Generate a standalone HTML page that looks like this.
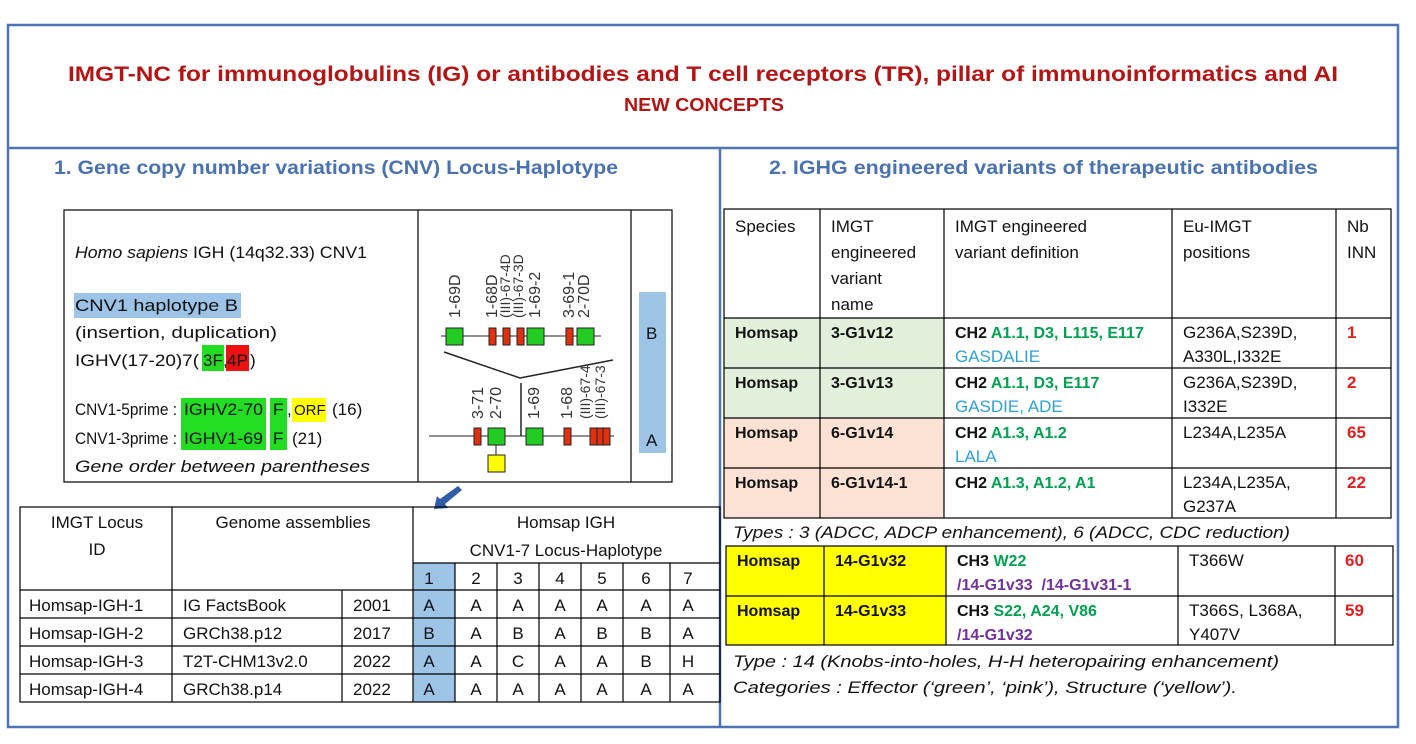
<!DOCTYPE html>
<html><head><meta charset="utf-8">
<style>
html,body{margin:0;padding:0;background:#fff;}
svg{display:block;font-family:"Liberation Sans",Arial,sans-serif;}
.b{font-weight:bold;}
.i{font-style:italic;}
</style></head>
<body>
<svg width="1416" height="744" viewBox="0 0 1416 744" xmlns="http://www.w3.org/2000/svg" fill="#111">
<rect x="8" y="25" width="1390" height="702" fill="none" stroke="#4f74b5" stroke-width="2.5"/>
<line x1="8" y1="148" x2="1398" y2="148" stroke="#4f74b5" stroke-width="2.5"/>
<line x1="720" y1="148" x2="720" y2="727" stroke="#4f74b5" stroke-width="2.5"/>

<text x="703" y="81" text-anchor="middle" font-size="21" font-weight="bold" fill="#b41414" textLength="1270" lengthAdjust="spacingAndGlyphs">IMGT-NC for immunoglobulins (IG) or antibodies and T cell receptors (TR), pillar of immunoinformatics and AI</text>
<text x="704" y="111" text-anchor="middle" font-size="18" font-weight="bold" fill="#b41414" textLength="160" lengthAdjust="spacingAndGlyphs">NEW CONCEPTS</text>

<text x="54" y="174" font-size="19" font-weight="bold" fill="#4a72b0" textLength="564" lengthAdjust="spacingAndGlyphs">1.   Gene copy number variations (CNV) Locus-Haplotype</text>
<text x="769" y="174" font-size="19" font-weight="bold" fill="#4a72b0" textLength="549" lengthAdjust="spacingAndGlyphs">2.   IGHG engineered variants of therapeutic antibodies</text>

<g>
<rect x="64" y="210" width="608" height="272" fill="none" stroke="#000" stroke-width="1.2"/>
<line x1="418" y1="210" x2="418" y2="482" stroke="#000" stroke-width="1.2"/>
<line x1="631" y1="210" x2="631" y2="482" stroke="#000" stroke-width="1.2"/>
<text font-size="17" x="75" y="258" textLength="292" lengthAdjust="spacingAndGlyphs"><tspan class="i">Homo sapiens</tspan> IGH (14q32.33) CNV1</text>
<rect x="74" y="293" width="167" height="25" fill="#9dc3e6"/>
<text font-size="17" x="75" y="311" textLength="163" lengthAdjust="spacingAndGlyphs">CNV1 haplotype B</text>
<text font-size="17" x="75" y="338" textLength="202" lengthAdjust="spacingAndGlyphs">(insertion, duplication)</text>
<rect x="202" y="345" width="22" height="26" fill="#22dd22"/>
<rect x="226" y="345" width="23" height="26" fill="#ee1111"/>
<g font-size="17">
<text x="75" y="366" textLength="124" lengthAdjust="spacingAndGlyphs">IGHV(17-20)7(</text>
<text x="203" y="366">3F</text>
<text x="223" y="366">,</text>
<text x="227" y="366">4P</text>
<text x="250" y="366">)</text>
</g>
<rect x="181" y="398" width="85" height="52" fill="#22dd22"/>
<rect x="270" y="398" width="17" height="52" fill="#22dd22"/>
<rect x="292" y="398" width="34" height="24" fill="#ffff00"/>
<g font-size="17">
<text x="75" y="415" textLength="102" lengthAdjust="spacingAndGlyphs">CNV1-5prime :</text>
<text x="184" y="415" textLength="79" lengthAdjust="spacingAndGlyphs">IGHV2-70</text>
<text x="273" y="415">F</text>
<text x="287" y="415">,</text>
<text x="294" y="415" font-size="15">ORF</text>
<text x="332" y="415">(16)</text>
<text x="75" y="444" textLength="102" lengthAdjust="spacingAndGlyphs">CNV1-3prime :</text>
<text x="184" y="444" textLength="79" lengthAdjust="spacingAndGlyphs">IGHV1-69</text>
<text x="273" y="444">F</text>
<text x="292" y="444">(21)</text>
</g>
<text class="i" font-size="17" x="75" y="472" textLength="295" lengthAdjust="spacingAndGlyphs">Gene order between parentheses</text>
</g>

<g stroke="#222" stroke-width="1">
<line x1="441" y1="336" x2="601" y2="336"/>
<rect x="446" y="328" width="17" height="17" fill="#22cc22"/>
<rect x="489" y="328" width="7" height="17" fill="#e03010"/>
<rect x="503" y="328" width="7" height="17" fill="#e03010"/>
<rect x="517" y="328" width="7" height="17" fill="#e03010"/>
<rect x="527" y="328" width="17" height="17" fill="#22cc22"/>
<rect x="566" y="328" width="7" height="17" fill="#e03010"/>
<rect x="577" y="328" width="17" height="17" fill="#22cc22"/>
<polyline points="444,352 520,378 613,360" fill="none" stroke-width="1.5"/>
<line x1="521" y1="383" x2="521" y2="436" stroke-width="1.5"/>
<line x1="429" y1="436" x2="614" y2="436"/>
<rect x="474" y="428" width="7" height="17" fill="#e03010"/>
<rect x="488" y="428" width="17" height="17" fill="#22cc22"/>
<line x1="496" y1="445" x2="496" y2="455"/>
<rect x="488" y="455" width="17" height="17" fill="#ffff00"/>
<rect x="526" y="428" width="17" height="17" fill="#22cc22"/>
<rect x="564" y="428" width="7" height="17" fill="#e03010"/>
<rect x="590" y="428" width="20" height="17" fill="#e03010"/>
<line x1="597" y1="428" x2="597" y2="445"/><line x1="603" y1="428" x2="603" y2="445"/>
</g>
<g font-size="16" fill="#333">
<text transform="translate(460,318) rotate(-90)">1-69D</text>
<text transform="translate(497,318) rotate(-90)">1-68D</text>
<text transform="translate(510,318) rotate(-90)" font-size="14">(III)-67-4D</text>
<text transform="translate(523,318) rotate(-90)" font-size="14">(III)-67-3D</text>
<text transform="translate(540,318) rotate(-90)">1-69-2</text>
<text transform="translate(574,318) rotate(-90)">3-69-1</text>
<text transform="translate(589,318) rotate(-90)">2-70D</text>
<text transform="translate(483,419) rotate(-90)">3-71</text>
<text transform="translate(501,419) rotate(-90)">2-70</text>
<text transform="translate(539,419) rotate(-90)">1-69</text>
<text transform="translate(572,419) rotate(-90)">1-68</text>
<text transform="translate(590,419) rotate(-90)" font-size="14">(III)-67-4</text>
<text transform="translate(605,419) rotate(-90)" font-size="14">(III)-67-3</text>
</g>
<rect x="639" y="292" width="27" height="161" fill="#9dc3e6"/>
<text x="646" y="339" font-size="17">B</text>
<text x="646" y="446" font-size="17">A</text>
<polygon points="458,486 462,490 445,504 448,508 434,509 437,496 440,499" fill="#2f5da8"/>

<g>
<rect x="413" y="563" width="42" height="139" fill="#9dc3e6"/>
<g stroke="#000" stroke-width="1.2" fill="none">
<rect x="20" y="507" width="700" height="195"/>
<line x1="20" y1="590" x2="720" y2="590"/>
<line x1="413" y1="563" x2="720" y2="563"/>
<line x1="20" y1="618" x2="720" y2="618"/>
<line x1="20" y1="646" x2="720" y2="646"/>
<line x1="20" y1="674" x2="720" y2="674"/>
<line x1="172" y1="507" x2="172" y2="702"/>
<line x1="342" y1="590" x2="342" y2="702"/>
<line x1="413" y1="507" x2="413" y2="702"/>
<line x1="455" y1="563" x2="455" y2="702"/>
<line x1="497" y1="563" x2="497" y2="702"/>
<line x1="539" y1="563" x2="539" y2="702"/>
<line x1="581" y1="563" x2="581" y2="702"/>
<line x1="623" y1="563" x2="623" y2="702"/>
<line x1="670" y1="563" x2="670" y2="702"/>
</g>
<g font-size="17" text-anchor="middle">
<text x="97" y="528">IMGT Locus</text><text x="97" y="555">ID</text>
<text x="293" y="528">Genome assemblies</text>
<text x="566" y="528">Homsap IGH</text><text x="566" y="556">CNV1-7 Locus-Haplotype</text>
<text x="429" y="584">1</text><text x="476" y="584">2</text><text x="518" y="584">3</text><text x="560" y="584">4</text><text x="602" y="584">5</text><text x="646" y="584">6</text><text x="688" y="584">7</text>
</g>
<g font-size="17">
<text x="29" y="611">Homsap-IGH-1</text><text x="183" y="611">IG FactsBook</text><text x="353" y="611">2001</text>
<text x="29" y="639">Homsap-IGH-2</text><text x="183" y="639">GRCh38.p12</text><text x="353" y="639">2017</text>
<text x="29" y="667">Homsap-IGH-3</text><text x="183" y="667">T2T-CHM13v2.0</text><text x="353" y="667">2022</text>
<text x="29" y="695">Homsap-IGH-4</text><text x="183" y="695">GRCh38.p14</text><text x="353" y="695">2022</text>
</g>
<g font-size="17" text-anchor="middle">
<text x="429" y="611">A</text><text x="476" y="611">A</text><text x="518" y="611">A</text><text x="560" y="611">A</text><text x="602" y="611">A</text><text x="646" y="611">A</text><text x="688" y="611">A</text>
<text x="429" y="639">B</text><text x="476" y="639">A</text><text x="518" y="639">B</text><text x="560" y="639">A</text><text x="602" y="639">B</text><text x="646" y="639">B</text><text x="688" y="639">A</text>
<text x="429" y="667">A</text><text x="476" y="667">A</text><text x="518" y="667">C</text><text x="560" y="667">A</text><text x="602" y="667">A</text><text x="646" y="667">B</text><text x="688" y="667">H</text>
<text x="429" y="695">A</text><text x="476" y="695">A</text><text x="518" y="695">A</text><text x="560" y="695">A</text><text x="602" y="695">A</text><text x="646" y="695">A</text><text x="688" y="695">A</text>
</g>
</g>

<g>
<rect x="724" y="318" width="220" height="100" fill="#e2efda"/>
<rect x="724" y="418" width="220" height="100" fill="#fbe2d5"/>
<g stroke="#000" stroke-width="1.2" fill="none">
<rect x="724" y="209" width="667" height="309"/>
<line x1="724" y1="318" x2="1391" y2="318"/>
<line x1="724" y1="368" x2="1391" y2="368"/>
<line x1="724" y1="418" x2="1391" y2="418"/>
<line x1="724" y1="468" x2="1391" y2="468"/>
<line x1="820" y1="209" x2="820" y2="518"/>
<line x1="944" y1="209" x2="944" y2="518"/>
<line x1="1172" y1="209" x2="1172" y2="518"/>
<line x1="1336" y1="209" x2="1336" y2="518"/>
</g>
<g font-size="17">
<text x="735" y="232">Species</text>
<text x="831" y="232">IMGT</text><text x="831" y="258">engineered</text><text x="831" y="284">variant</text><text x="831" y="310">name</text>
<text x="955" y="232">IMGT engineered</text><text x="955" y="258">variant definition</text>
<text x="1183" y="232">Eu-IMGT</text><text x="1183" y="258">positions</text>
<text x="1347" y="232">Nb</text><text x="1347" y="258">INN</text>
</g>
<g font-weight="bold" font-size="16">
<text x="735" y="338">Homsap</text><text x="831" y="338">3-G1v12</text>
<text x="735" y="388">Homsap</text><text x="831" y="388">3-G1v13</text>
<text x="735" y="438">Homsap</text><text x="831" y="438">6-G1v14</text>
<text x="735" y="488">Homsap</text><text x="831" y="488">6-G1v14-1</text>
</g>
<g font-weight="bold" font-size="16">
<text x="955" y="338">CH2 <tspan fill="#00a050">A1.1, D3, L115, E117</tspan></text>
<text x="955" y="388">CH2 <tspan fill="#00a050">A1.1, D3, E117</tspan></text>
<text x="955" y="438">CH2 <tspan fill="#00a050">A1.3, A1.2</tspan></text>
<text x="955" y="488">CH2 <tspan fill="#00a050">A1.3, A1.2, A1</tspan></text>
</g>
<g font-size="17" fill="#2e9fd8">
<text x="955" y="362">GASDALIE</text><text x="955" y="412">GASDIE, ADE</text><text x="955" y="462">LALA</text>
</g>
<g font-size="17">
<text x="1183" y="338">G236A,S239D,</text><text x="1183" y="362">A330L,I332E</text>
<text x="1183" y="388">G236A,S239D,</text><text x="1183" y="412">I332E</text>
<text x="1183" y="438">L234A,L235A</text>
<text x="1183" y="488">L234A,L235A,</text><text x="1183" y="512">G237A</text>
</g>
<g font-weight="bold" font-size="17" fill="#e02020">
<text x="1347" y="338">1</text><text x="1347" y="388">2</text><text x="1347" y="438">65</text><text x="1347" y="488">22</text>
</g>
</g>
<text class="i" x="733" y="538" font-size="17" textLength="557" lengthAdjust="spacingAndGlyphs">Types : 3 (ADCC, ADCP enhancement), 6 (ADCC, CDC reduction)</text>

<g>
<rect x="726" y="546" width="220" height="99" fill="#ffff00"/>
<g stroke="#000" stroke-width="1.2" fill="none">
<rect x="726" y="546" width="667" height="99"/>
<line x1="726" y1="596" x2="1393" y2="596"/>
<line x1="824" y1="546" x2="824" y2="645"/>
<line x1="946" y1="546" x2="946" y2="645"/>
<line x1="1178" y1="546" x2="1178" y2="645"/>
<line x1="1335" y1="546" x2="1335" y2="645"/>
</g>
<g font-weight="bold" font-size="16">
<text x="737" y="566">Homsap</text><text x="835" y="566">14-G1v32</text>
<text x="737" y="616">Homsap</text><text x="835" y="616">14-G1v33</text>
<text x="957" y="566">CH3 <tspan fill="#00a050">W22</tspan></text>
<text x="957" y="616">CH3 <tspan fill="#00a050">S22, A24, V86</tspan></text>
</g>
<g font-weight="bold" font-size="16" fill="#7030a0">
<text x="957" y="590" xml:space="preserve">/14-G1v33  /14-G1v31-1</text>
<text x="957" y="640">/14-G1v32</text>
</g>
<g font-size="17">
<text x="1189" y="566">T366W</text>
<text x="1189" y="616">T366S, L368A,</text><text x="1189" y="640">Y407V</text>
</g>
<g font-weight="bold" font-size="17" fill="#e02020">
<text x="1345" y="566">60</text><text x="1345" y="616">59</text>
</g>
</g>
<text class="i" x="733" y="667" font-size="17" textLength="546" lengthAdjust="spacingAndGlyphs">Type : 14 (Knobs-into-holes, H-H heteropairing enhancement)</text>
<text class="i" x="733" y="693" font-size="17" textLength="504" lengthAdjust="spacingAndGlyphs">Categories : Effector (‘green’, ‘pink’), Structure (‘yellow’).</text>
</svg>
</body></html>
